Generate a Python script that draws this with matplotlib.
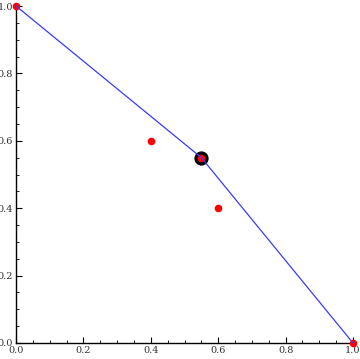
import matplotlib
matplotlib.use("Agg")
import matplotlib.pyplot as plt
from matplotlib.ticker import MultipleLocator

line_x = [0.0, 0.55, 1.0]
line_y = [1.0, 0.55, 0.0]
pts_x = [0.0, 0.4, 0.55, 0.6, 1.0]
pts_y = [1.0, 0.6, 0.55, 0.4, 0.0]
hl_x = [0.55]
hl_y = [0.55]
ticks = [0.0, 0.2, 0.4, 0.6, 0.8, 1.0]
tick_labels = ["0.0", "0.2", "0.4", "0.6", "0.8", "1.0"]

fig = plt.figure(figsize=(3.6, 3.59), dpi=100)
ax = fig.add_axes([16/360, 16/359, 337/360, 337/359])
ax.set_xlim(0, 1)
ax.set_ylim(0, 1)
ax.scatter(hl_x, hl_y, s=105, color="black", zorder=3, linewidths=0, clip_on=False)
ax.scatter(pts_x, pts_y, s=30, color="red", zorder=4, linewidths=0, clip_on=False)
ax.plot(line_x, line_y, color="#3a3aff", lw=0.9, zorder=5, clip_on=False)
for s in ["top", "right"]:
    ax.spines[s].set_visible(False)
for s in ["left", "bottom"]:
    ax.spines[s].set_linewidth(1.0)
ax.set_xticks(ticks)
ax.set_xticklabels(tick_labels)
ax.set_yticks(ticks)
ax.set_yticklabels(tick_labels)
ax.xaxis.set_minor_locator(MultipleLocator(0.05))
ax.yaxis.set_minor_locator(MultipleLocator(0.05))
ax.tick_params(which="major", direction="in", length=4, width=0.8, labelsize=7, pad=2, colors="black", labelcolor="#333333")
ax.tick_params(which="minor", direction="in", length=2, width=0.6)
for lab in ax.get_xticklabels() + ax.get_yticklabels():
    lab.set_family("DejaVu Serif")
fig.savefig("out.png", dpi=100)
